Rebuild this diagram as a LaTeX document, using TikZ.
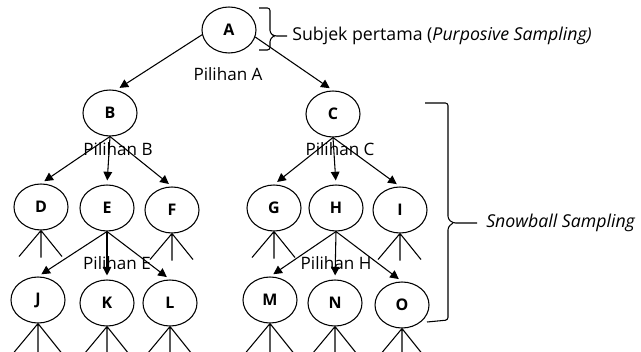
\documentclass[tikz,border=0pt]{standalone}
\usepackage{fontspec}
\setmainfont{Open Sans}
\usetikzlibrary{shapes.geometric,arrows.meta}
\begin{document}
\begin{tikzpicture}[x=0.75pt,y=-0.75pt,
  person/.style={ellipse,draw,line width=0.8pt,minimum width=40.5pt,minimum height=34.5pt,
    inner sep=0pt,font=\bfseries\fontsize{12}{14}\selectfont},
  pick/.style={line width=0.8pt,-{Triangle[length=6.5pt,width=6.5pt]},shorten >=3pt},
  stroke/.style={line width=0.8pt},
  choice/.style={font=\fontsize{12.8}{15}\selectfont,inner sep=0pt},
  note/.style={font=\fontsize{13.3}{16}\selectfont,inner sep=0pt,anchor=west}]
\clip (0,0) rectangle (641,352);
\fill[white] (0,0) rectangle (641,352);

% subjects
\node[person] (A) at (229,30) {A};
\node[person] (B) at (110,113) {B};
\node[person] (C) at (333,114) {C};
\node[person] (D) at (41,207) {D};
\node[person] (E) at (107,208) {E};
\node[person] (F) at (172,210) {F};
\node[person] (G) at (274,208) {G};
\node[person] (H) at (336,208) {H};
\node[person] (I) at (400,210) {I};
\node[person] (J) at (38,300) {J};
\node[person] (K) at (107,303) {K};
\node[person] (L) at (170,303) {L};
\node[person] (M) at (270,300) {M};
\node[person] (N) at (335,303) {N};
\node[person] (O) at (402,305) {O};

% referrals
\draw[pick] (A.190) -- (B.75);
\draw[pick] (A.-15) -- (C.north);
\foreach \p/\c in {B/D,B/E,B/F,C/G,C/H,C/I,E/J,E/K,E/L,H/M,H/N,H/O}
  \draw[pick] (\p.south) -- (\c.north);

% further branches below each subject
\foreach \n in {D,F,G,I}
  \draw[stroke] (\n.south) -- ++(-22,26) (\n.south) -- ++(0,27) (\n.south) -- ++(21,26);
\foreach \n in {J,K,L,M,N,O}
  \draw[stroke] (\n.south) -- ++(-25,30) (\n.south) -- ++(0,30) (\n.south) -- ++(24,30);

% choice labels
\node[choice] (pa) at (228,74) {Pilihan A};
\node[choice] (pb) at (118,149) {Pilihan B};
\node[choice] (pc) at (340,149) {Pilihan C};
\node[choice] (pe) at (117,263) {Pilihan E};
\node[choice] (ph) at (336,263) {Pilihan H};

% braces
\draw[stroke,rounded corners=2pt] (259,8) -- (270,8) -- (270,33) -- (274,36) -- (287,36);
\draw[stroke,rounded corners=2pt] (274,36) -- (270,39) -- (270,50) -- (259,50);
\node[note] (first) at (292,36) {Subjek pertama (\textit{Purposive Sampling)}};

\draw[stroke,rounded corners=2pt] (425,103) -- (448,103) -- (448,219) -- (453,223) -- (477,223);
\draw[stroke,rounded corners=2pt] (453,223) -- (448,227) -- (448,320) -- (427,322);
\node[note] (snow) at (486,223) {\textit{Snowball Sampling}};
\end{tikzpicture}
\end{document}
